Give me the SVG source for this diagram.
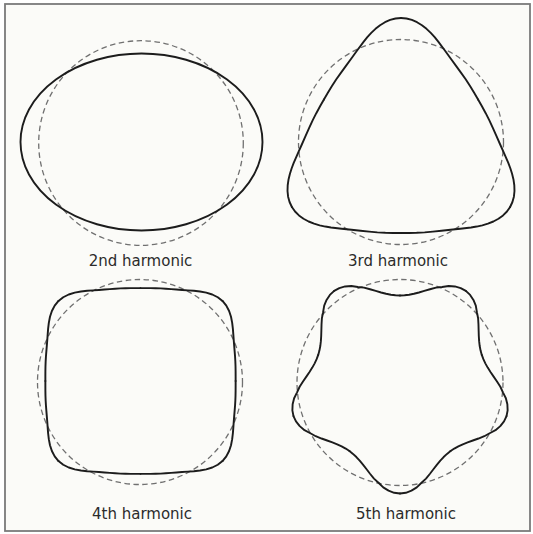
<svg xmlns="http://www.w3.org/2000/svg" width="533" height="534" viewBox="0 0 533 534">
<style>
.guide{fill:none;stroke:#707070;stroke-width:1.3;stroke-dasharray:5.5 3.5}
.curve{fill:none;stroke:#1c1c1c;stroke-width:1.9;stroke-linejoin:round;stroke-linecap:round}
.label{font-family:"DejaVu Sans",sans-serif;font-size:15px;fill:#2b2b2b;text-anchor:middle}
.frame{fill:#fbfbf8;stroke:#7a7a7a;stroke-width:1.8}
</style>
<defs>
<polyline id="h3seg" points="126,0 125.51,5.48 124.09,10.86 121.79,16.03 118.75,20.93 115.13,25.52 111.07,29.76 106.79,33.67 102.38,37.26 93.73,43.71 85.70,49.48 78.35,54.86 71.42,59.94 64.68,64.68 57.95,69.05 51.22,73.15 44.5,77.08"/>
<polyline id="h4seg" points="114.6,0 113.94,5.97 112.05,11.78 109.19,17.29 105.66,22.46 101.83,27.28 97.94,31.82 94.18,36.15 90.60,40.34 87.14,44.40 83.75,48.36 80.35,52.18 76.91,55.88 73.44,59.47 69.95,62.99 66.47,66.47"/>
<polyline id="h5seg" points="112,0 111.27,5.83 109.16,11.47 105.87,16.77 101.24,21.52 97.08,26.01 92.25,29.97 87.54,33.60 83.13,37.01 79.13,40.32 75.55,43.62 72.39,47.01 69.58,50.55"/>
</defs>
<rect class="frame" x="5" y="4" width="525" height="527"/>

<g id="panel-2nd">
<circle class="guide" cx="141" cy="143" r="102.3"/>
<ellipse class="curve" cx="141.5" cy="142" rx="121" ry="88.5"/>
<text class="label" x="140.5" y="266">2nd harmonic</text>
</g>

<g id="panel-3rd">
<circle class="guide" cx="401" cy="142" r="102.5"/>
<g class="curve" transform="translate(401,144) rotate(-90)">
<use href="#h3seg"/>
<use href="#h3seg" transform="scale(1,-1)"/>
<use href="#h3seg" transform="rotate(120)"/>
<use href="#h3seg" transform="rotate(120) scale(1,-1)"/>
<use href="#h3seg" transform="rotate(240)"/>
<use href="#h3seg" transform="rotate(240) scale(1,-1)"/>
</g>
<text class="label" x="398" y="266">3rd harmonic</text>
</g>

<g id="panel-4th">
<circle class="guide" cx="140" cy="382" r="102.5"/>
<g class="curve" transform="translate(140.5,381) scale(1.012,0.988) rotate(45)">
<use href="#h4seg"/>
<use href="#h4seg" transform="scale(1,-1)"/>
<use href="#h4seg" transform="rotate(90)"/>
<use href="#h4seg" transform="rotate(90) scale(1,-1)"/>
<use href="#h4seg" transform="rotate(180)"/>
<use href="#h4seg" transform="rotate(180) scale(1,-1)"/>
<use href="#h4seg" transform="rotate(270)"/>
<use href="#h4seg" transform="rotate(270) scale(1,-1)"/>
</g>
<text class="label" x="142" y="519">4th harmonic</text>
</g>

<g id="panel-5th">
<circle class="guide" cx="400" cy="382.5" r="103"/>
<g class="curve" transform="translate(400,381.5) rotate(90)">
<use href="#h5seg"/>
<use href="#h5seg" transform="scale(1,-1)"/>
<use href="#h5seg" transform="rotate(72)"/>
<use href="#h5seg" transform="rotate(72) scale(1,-1)"/>
<use href="#h5seg" transform="rotate(144)"/>
<use href="#h5seg" transform="rotate(144) scale(1,-1)"/>
<use href="#h5seg" transform="rotate(216)"/>
<use href="#h5seg" transform="rotate(216) scale(1,-1)"/>
<use href="#h5seg" transform="rotate(288)"/>
<use href="#h5seg" transform="rotate(288) scale(1,-1)"/>
</g>
<text class="label" x="406" y="519">5th harmonic</text>
</g>
</svg>
